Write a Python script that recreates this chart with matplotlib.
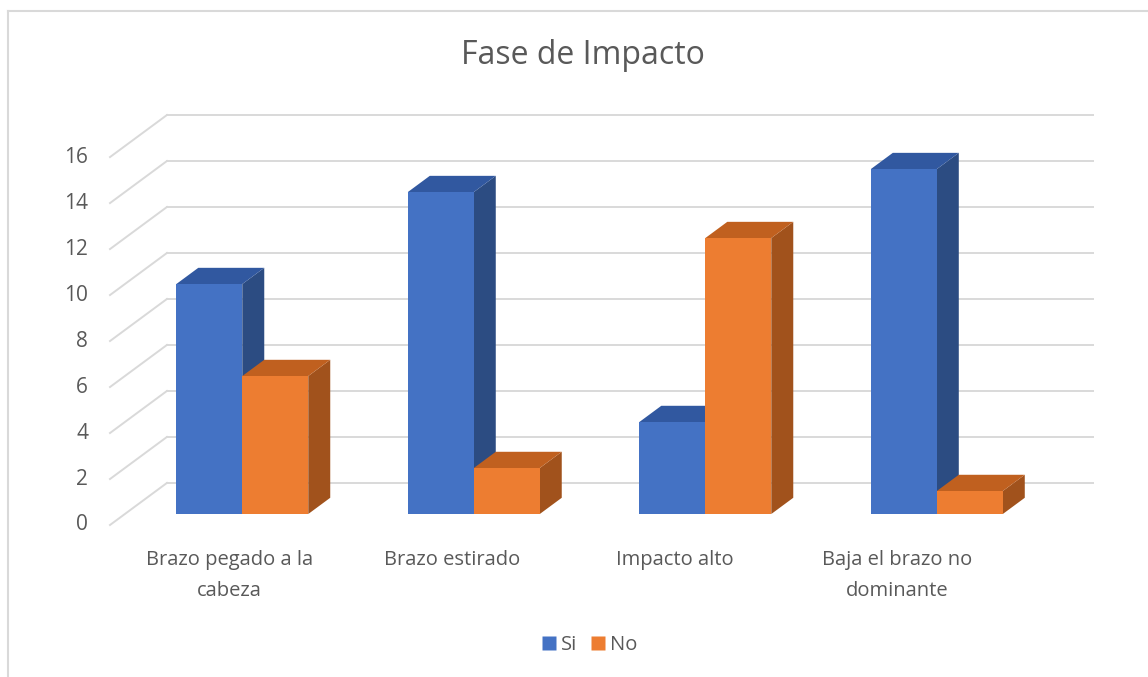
import matplotlib
matplotlib.use("Agg")
import matplotlib.pyplot as plt
from matplotlib.patches import Polygon
from matplotlib.lines import Line2D

categories = ["Brazo pegado a la\ncabeza", "Brazo estirado", "Impacto alto", "Baja el brazo no\ndominante"]
series_names = ["Si", "No"]
si_values = [10, 14, 4, 15]
no_values = [6, 2, 12, 1]
y_ticks = [0, 2, 4, 6, 8, 10, 12, 14, 16]

FONT = "Open Sans"
TXT = "#595959"
GRID = "#d9d9d9"
front_cols = ["#4472C4", "#ED7D31"]
top_cols = ["#3158A0", "#C0601F"]
side_cols = ["#2C4C82", "#A1521C"]

# oblique projection: full depth shift in data units
DX, DY = 0.246, 1.83
D0, DD = 0.29, 0.386   # bar front depth and bar depth (fraction of floor depth)
W = 0.285              # bar width in category units
YMAX = 16

fig = plt.figure(figsize=(11.48, 6.77), dpi=100)
W_PX, H_PX = 1148, 677
ax = fig.add_axes([110 / W_PX, (H_PX - 525) / H_PX, (1093 - 110) / W_PX, (525 - 115) / H_PX])
ax.set_xlim(-0.5, len(categories) - 0.5 + DX)
ax.set_ylim(0, YMAX + DY)
ax.axis("off")

# gridlines: side wall diagonal + back wall horizontal
for v in y_ticks:
    ax.plot([-0.5, -0.5 + DX], [v, v + DY], color=GRID, lw=1.4, clip_on=False, zorder=1)
    ax.plot([-0.5 + DX, len(categories) - 0.5 + DX], [v + DY, v + DY], color=GRID, lw=1.4,
            clip_on=False, zorder=1)
    ax.text(-0.595, v, str(v), ha="right", va="center", fontsize=15, color=TXT, family=FONT)

# bars
z = 2
for i in range(len(categories)):
    for j, vals in enumerate([si_values, no_values]):
        val = vals[i]
        x0 = i + D0 * DX - W + j * W
        y0 = D0 * DY * 0.9
        y1 = y0 + val
        ddx, ddy = DD * DX, DD * DY
        front = Polygon([(x0, y0), (x0 + W, y0), (x0 + W, y1), (x0, y1)], closed=True,
                        facecolor=front_cols[j], edgecolor="none", zorder=z)
        top = Polygon([(x0, y1), (x0 + W, y1), (x0 + W + ddx, y1 + ddy), (x0 + ddx, y1 + ddy)],
                      closed=True, facecolor=top_cols[j], edgecolor="none", zorder=z)
        side = Polygon([(x0 + W, y0), (x0 + W + ddx, y0 + ddy), (x0 + W + ddx, y1 + ddy), (x0 + W, y1)],
                       closed=True, facecolor=side_cols[j], edgecolor="none", zorder=z)
        for p in (side, top, front):
            p.set_clip_on(False)
            ax.add_patch(p)
        z += 1

# category labels
for i, lab in enumerate(categories):
    ax.text(i * 0.962 + 0.015, -1.07, lab, ha="center", va="top", fontsize=14.5, color=TXT,
            family=FONT, linespacing=1.75)

# title
fig.text(583 / W_PX, 1 - 56 / H_PX, "Fase de Impacto", ha="center", va="center",
         fontsize=23, color=TXT, family=FONT)

# legend
handles = [Line2D([], [], marker="s", linestyle="none", markersize=10,
                  markerfacecolor=c, markeredgecolor="none") for c in front_cols]
leg = fig.legend(handles, series_names, loc="center", bbox_to_anchor=(588 / W_PX, 1 - 645 / H_PX),
                 ncol=2, frameon=False, handletextpad=0.1, columnspacing=0.5,
                 handlelength=1.0, prop={"family": FONT, "size": 14.5})
for t in leg.get_texts():
    t.set_color(TXT)

# chart frame (left and top visible)
fig.add_artist(Line2D([8 / W_PX, 8 / W_PX], [0, 1 - 11 / H_PX], color=GRID, lw=1.5))
fig.add_artist(Line2D([8 / W_PX, 1], [1 - 11 / H_PX, 1 - 11 / H_PX], color=GRID, lw=1.5))

fig.savefig("out.png", dpi=100, facecolor="white")
